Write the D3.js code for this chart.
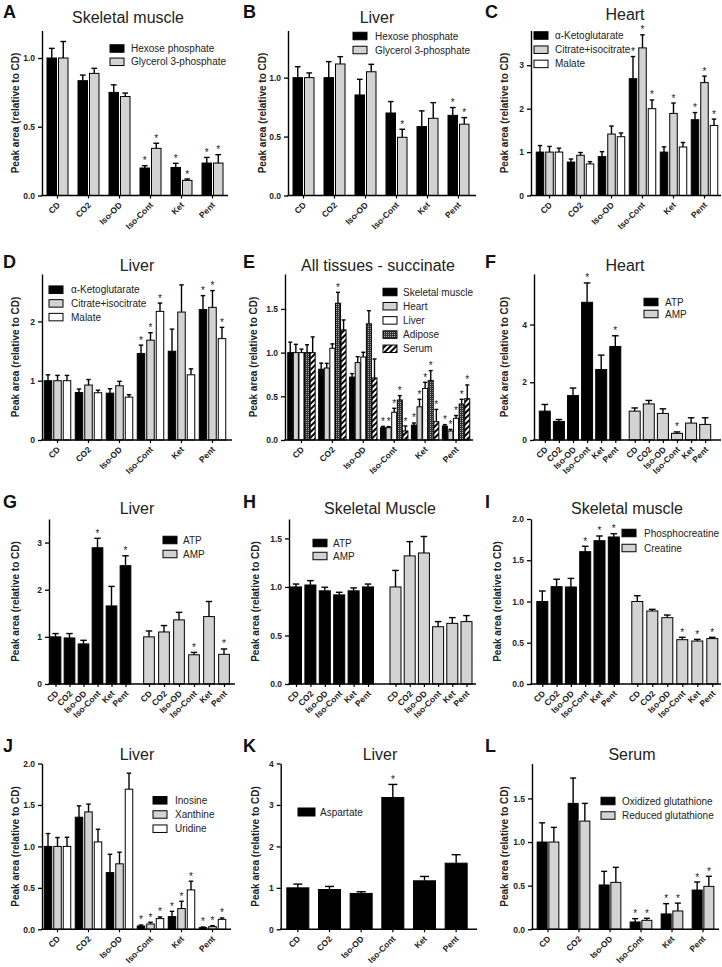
<!DOCTYPE html>
<html><head><meta charset="utf-8">
<script src="https://cdn.jsdelivr.net/npm/d3@7"></script>
<style>
body{margin:0;background:#fff;}
svg{display:block;font-family:"Liberation Sans",Arial,Helvetica,sans-serif;}
</style></head><body>
<svg id="chart" width="722" height="967"></svg>
<script>
const groups = ["CD","CO2","Iso-OD","Iso-Cont","Ket","Pent"];

// A - Skeletal muscle
const aSeries = ["Hexose phosphate","Glycerol 3-phosphate"];
const aMean = [[1.00,0.835,0.75,0.20,0.204,0.236],[1.00,0.888,0.72,0.343,0.11,0.236]];
const aErrTop = [[1.07,0.876,0.805,0.217,0.234,0.277],[1.12,0.925,0.745,0.38,0.12,0.297]];
const aSig = [[0,0,0,1,1,1],[0,0,0,1,1,1]];
const aTicks = [0,0.5,1.0];

// B - Liver
const bSeries = ["Hexose phosphate","Glycerol 3-phosphate"];
const bMean = [[1.0,1.0,0.853,0.70,0.585,0.68],[1.0,1.116,1.05,0.494,0.655,0.605]];
const bErrTop = [[1.093,1.136,0.986,0.797,0.718,0.746],[1.04,1.178,1.113,0.562,0.788,0.661]];
const bSig = [[0,0,0,0,0,1],[0,0,0,1,0,1]];
const bTicks = [0,0.5,1.0];

// C - Heart
const cSeries = ["\u03b1-Ketoglutarate","Citrate+isocitrate","Malate"];
const cMean = [[1.0,0.77,0.895,2.69,1.0,1.745],[1.0,0.926,1.415,3.40,1.89,2.6],[1.0,0.727,1.354,2.0,1.117,1.614]];
const cErrTop = [[1.15,0.84,1.01,3.2,1.12,1.91],[1.13,0.99,1.6,3.70,2.13,2.75],[1.09,0.78,1.44,2.2,1.22,1.76]];
const cSig = [[0,0,0,1,0,1],[0,0,0,1,1,1],[0,0,0,1,0,1]];
const cTicks = [0,1,2,3];

// D - Liver
const dSeries = ["\u03b1-Ketoglutarate","Citrate+isocitrate","Malate"];
const dMean = [[1.0,0.80,0.79,1.46,1.497,2.2],[1.0,0.927,0.915,1.684,2.158,2.237],[1.0,0.797,0.723,2.17,1.10,1.71]];
const dErrTop = [[1.10,0.86,0.865,1.60,1.87,2.435],[1.09,1.02,0.99,1.81,2.616,2.52],[1.09,0.84,0.763,2.31,1.20,1.90]];
const dSig = [[0,0,0,1,0,1],[0,0,0,1,0,1],[0,0,0,1,0,1]];
const dTicks = [0,1,2];

// E - All tissues - succinate
const eSeries = ["Skeletal muscle","Heart","Liver","Adipose","Serum"];
const eMean = [
  [1.0,0.81,0.72,0.14,0.17,0.16],
  [1.0,0.824,0.886,0.141,0.38,0.103],
  [1.0,1.05,0.95,0.317,0.59,0.248],
  [1.0,1.565,1.33,0.458,0.68,0.412],
  [1.0,1.26,0.71,0.103,0.21,0.473]];
const eErrTop = [
  [1.12,0.88,0.76,0.156,0.195,0.176],
  [1.095,0.877,0.954,0.153,0.466,0.122],
  [1.04,1.10,1.004,0.363,0.66,0.28],
  [1.09,1.69,1.48,0.508,0.794,0.466],
  [1.18,1.374,0.927,0.16,0.35,0.63]];
const eSig = [[0,0,0,1,1,1],[0,0,0,1,1,1],[0,0,0,1,1,1],[0,1,0,1,1,1],[0,0,0,1,1,1]];
const eTicks = [0,0.5,1.0,1.5];

// F - Heart ATP/AMP
const fSeries = ["ATP","AMP"];
const fMean = [[1.0,0.644,1.54,4.77,2.44,3.24],[1.0,1.25,0.92,0.23,0.586,0.54]];
const fErrTop = [[1.23,0.71,1.80,5.44,2.94,3.61],[1.11,1.37,1.08,0.28,0.77,0.77]];
const fSig = [[0,0,0,1,0,1],[0,0,0,1,0,0]];
const fTicks = [0,2,4];

// G - Liver ATP/AMP
const gSeries = ["ATP","AMP"];
const gMean = [[1.0,0.977,0.85,2.89,1.656,2.51],[1.0,1.104,1.36,0.62,1.43,0.63]];
const gErrTop = [[1.07,1.07,0.927,3.09,2.07,2.72],[1.125,1.24,1.52,0.67,1.75,0.743]];
const gSig = [[0,0,0,1,0,1],[0,0,0,1,0,1]];
const gTicks = [0,1,2,3];

// H - Skeletal Muscle ATP/AMP
const hSeries = ["ATP","AMP"];
const hMean = [[1.0,1.02,0.96,0.918,0.96,1.0],[1.0,1.32,1.35,0.59,0.625,0.643]];
const hErrTop = [[1.03,1.065,0.997,0.945,0.99,1.03],[1.17,1.467,1.52,0.643,0.684,0.705]];
const hSig = [[0,0,0,0,0,0],[0,0,0,0,0,0]];
const hTicks = [0,0.5,1.0,1.5];

// I - Skeletal muscle PCr/Cr
const iSeries = ["Phosphocreatine","Creatine"];
const iMean = [[1.0,1.18,1.176,1.604,1.737,1.782],[1.0,0.885,0.804,0.537,0.521,0.55]];
const iErrTop = [[1.127,1.27,1.28,1.669,1.794,1.822],[1.07,0.905,0.836,0.566,0.541,0.566]];
const iSig = [[0,0,0,1,1,1],[0,0,0,1,1,1]];
const iTicks = [0,0.5,1.0,1.5,2.0];

// J - Liver nucleosides
const jSeries = ["Inosine","Xanthine","Uridine"];
const jMean = [[1.0,1.352,0.684,0.04,0.153,0.02],[1.0,1.416,0.79,0.064,0.25,0.032],[1.0,1.054,1.69,0.129,0.475,0.12]];
const jErrTop = [[1.155,1.489,0.905,0.052,0.217,0.028],[1.107,1.51,0.93,0.085,0.338,0.044],[1.11,1.207,1.883,0.149,0.58,0.137]];
const jSig = [[0,0,0,1,1,1],[0,0,0,1,1,1],[0,0,0,1,1,1]];
const jTicks = [0,0.5,1.0,1.5,2.0];

// K - Liver aspartate
const kSeries = ["Aspartate"];
const kMean = [[1.0,0.96,0.866,3.18,1.17,1.595]];
const kErrTop = [[1.09,1.034,0.906,3.495,1.275,1.80]];
const kSig = [[0,0,0,1,0,0]];
const kTicks = [0,1,2,3,4];

// L - Serum glutathione
const lSeries = ["Oxidized glutathione","Reduced glutathione"];
const lMean = [[1.0,1.443,0.508,0.084,0.176,0.45],[1.0,1.24,0.538,0.103,0.21,0.492]];
const lErrTop = [[1.22,1.733,0.664,0.122,0.294,0.542],[1.168,1.443,0.71,0.126,0.30,0.607]];
const lSig = [[0,0,0,1,1,1],[0,0,0,1,1,1]];
const lTicks = [0,0.5,1.0,1.5];

// ---------- styles / layout ----------
const BLACK="#000", GRAY="#d3d3d3", WHITE="#fff";
const f1 = d3.format(".1f"), f0 = d3.format("d");
const R1=[30.5,195.5], R2=[274,440], R3=[519,684], R4=[763.5,929.3];

const panels = [
 {letter:"A",lx:3,ly:18,title:"Skeletal muscle",tx:128,ty:23,series:aSeries,mean:aMean,err:aErrTop,sig:aSig,ticks:aTicks,fmt:f1,ymax:1.2,
  top:R1[0],bottom:R1[1],axisX:42,xEnd:228,x0:42,x1:228,bw:9.5,gap:2,fills:[BLACK,GRAY],ylx:15,
  leg:{x:110,y:48.5,dy:13.3,tx:131}},
 {letter:"B",lx:243,ly:18,title:"Liver",tx:377,ty:23,series:bSeries,mean:bMean,err:bErrTop,sig:bSig,ticks:bTicks,fmt:f1,ymax:1.4,
  top:R1[0],bottom:R1[1],axisX:288,xEnd:476,x0:288,x1:474,bw:9.5,gap:2,fills:[BLACK,GRAY],ylx:262,
  leg:{x:353,y:36,dy:14,tx:375}},
 {letter:"C",lx:485,ly:18,title:"Heart",tx:625,ty:20,series:cSeries,mean:cMean,err:cErrTop,sig:cSig,ticks:cTicks,fmt:f0,ymax:3.8,
  top:R1[0],bottom:R1[1],axisX:531,xEnd:721,x0:534,x1:720,bw:7.5,gap:2,fills:[BLACK,GRAY,WHITE],ylx:504,
  leg:{x:534,y:35.5,dy:14.2,tx:555}},
 {letter:"D",lx:3,ly:268,title:"Liver",tx:137,ty:271,series:dSeries,mean:dMean,err:dErrTop,sig:dSig,ticks:dTicks,fmt:f0,ymax:2.8,
  top:R2[0],bottom:R2[1],axisX:42,xEnd:232,x0:42,x1:228,bw:7.5,gap:2,fills:[BLACK,GRAY,WHITE],ylx:15,
  leg:{x:49,y:289.7,dy:13.7,tx:71}},
 {letter:"E",lx:243,ly:268,title:"All tissues - succinate",tx:378,ty:271,series:eSeries,mean:eMean,err:eErrTop,sig:eSig,ticks:eTicks,fmt:f1,ymax:1.9,
  top:R2[0],bottom:R2[1],axisX:285,xEnd:473,x0:286,x1:471.5,bw:5,gap:0.6,fills:[BLACK,GRAY,WHITE,"url(#checker)","url(#stripes)"],ylx:253,
  leg:{x:383,y:292,dy:14.2,tx:403}},
 {letter:"F",lx:485,ly:268,title:"Heart",tx:625,ty:271,series:fSeries,mean:fMean,err:fErrTop,sig:fSig,ticks:fTicks,fmt:f0,ymax:5.75,
  top:R2[0],bottom:R2[1],axisX:534,xEnd:721,split:[{c:544.8,s:14.1},{c:634.7,s:14.1}],bw:11,fills:[BLACK,GRAY],ylx:504,
  leg:{x:644,y:302,dy:12,tx:665}},
 {letter:"G",lx:3,ly:508,title:"Liver",tx:137,ty:514,series:gSeries,mean:gMean,err:gErrTop,sig:gSig,ticks:gTicks,fmt:f0,ymax:3.5,
  top:R3[0],bottom:R3[1],axisX:49,xEnd:235,split:[{c:55.5,s:14},{c:149,s:15}],bw:10.7,fills:[BLACK,GRAY],ylx:15,
  leg:{x:163,y:540,dy:14,tx:183}},
 {letter:"H",lx:243,ly:508,title:"Skeletal Muscle",tx:380,ty:514,series:hSeries,mean:hMean,err:hErrTop,sig:hSig,ticks:hTicks,fmt:f1,ymax:1.7,
  top:R3[0],bottom:R3[1],axisX:289,xEnd:476,split:[{c:296,s:14.4},{c:395.5,s:14.2}],bw:11,fills:[BLACK,GRAY],ylx:255,
  leg:{x:313,y:543,dy:13,tx:333}},
 {letter:"I",lx:485,ly:508,title:"Skeletal muscle",tx:627,ty:514,series:iSeries,mean:iMean,err:iErrTop,sig:iSig,ticks:iTicks,fmt:f1,ymax:2.0,
  top:R3[0],bottom:R3[1],axisX:531,xEnd:721,split:[{c:542.3,s:14.3},{c:637.3,s:15}],bw:11,fills:[BLACK,GRAY],ylx:497,
  leg:{x:622,y:533,dy:15,tx:644}},
 {letter:"J",lx:3,ly:752,title:"Liver",tx:137,ty:760,series:jSeries,mean:jMean,err:jErrTop,sig:jSig,ticks:jTicks,fmt:f1,ymax:2.0,
  top:R4[0],bottom:R4[1],axisX:42,xEnd:231,x0:42,x1:228,bw:7.5,gap:2,fills:[BLACK,GRAY,WHITE],ylx:15,
  leg:{x:153,y:800.3,dy:14.2,tx:175}},
 {letter:"K",lx:243,ly:752,title:"Liver",tx:380,ty:760,series:kSeries,mean:kMean,err:kErrTop,sig:kSig,ticks:kTicks,fmt:f0,ymax:4,
  top:R4[0],bottom:R4[1],axisX:280.7,xEnd:477,x0:282,x1:472,bw:22,gap:0,fills:[BLACK],ylx:255,
  leg:{x:298,y:812,dy:14,tx:320,w:17,h:8}},
 {letter:"L",lx:485,ly:752,title:"Serum",tx:632,ty:760,series:lSeries,mean:lMean,err:lErrTop,sig:lSig,ticks:lTicks,fmt:f1,ymax:1.9,
  top:R4[0],bottom:R4[1],axisX:532,xEnd:719,x0:532.5,x1:718.5,bw:10,gap:1.7,fills:[BLACK,GRAY],ylx:504,
  leg:{x:601,y:801,dy:14.5,tx:622}}
];

const svg = d3.select("#chart");
svg.append("rect").attr("width",722).attr("height",967).attr("fill","#fff");
const defs = svg.append("defs");
const pc = defs.append("pattern").attr("id","checker").attr("width",2).attr("height",2).attr("patternUnits","userSpaceOnUse");
pc.append("rect").attr("width",2).attr("height",2).attr("fill","#333");
pc.append("rect").attr("width",1).attr("height",1).attr("fill","#aaa");
const ps = defs.append("pattern").attr("id","stripes").attr("width",4).attr("height",4).attr("patternUnits","userSpaceOnUse").attr("patternTransform","rotate(45)");
ps.append("rect").attr("width",4).attr("height",4).attr("fill","#fff");
ps.append("rect").attr("width",2).attr("height",4).attr("fill","#000");

function drawPanel(P){
  const g = svg.append("g");
  const y = d3.scaleLinear().domain([0,P.ymax]).range([P.bottom,P.top]);
  const k = P.series.length;
  let xpos, axisScale, fmtX = d=>d;
  if (P.split){
    const keys=[], pos=[];
    P.series.forEach((s,si)=>groups.forEach((gn,gi)=>{keys.push(si+"|"+gn); pos.push(P.split[si].c + gi*P.split[si].s);}));
    const xo = d3.scaleOrdinal().domain(keys).range(pos);
    xpos = (si,gi)=>xo(si+"|"+groups[gi]);
    axisScale = xo; fmtX = d=>d.split("|")[1];
  } else {
    const xb = d3.scaleBand().domain(groups).range([P.x0,P.x1]);
    const W = k*P.bw + (k-1)*P.gap;
    const xs = d3.scaleBand().domain(d3.range(k)).range([-W/2,W/2]).paddingInner(k>1?P.gap/(P.bw+P.gap):0);
    xpos = (si,gi)=>xb(groups[gi]) + xb.bandwidth()/2 + xs(si) + xs.bandwidth()/2;
    axisScale = xb;
  }
  const recs=[];
  P.series.forEach((s,si)=>groups.forEach((gn,gi)=>recs.push({si,gi,m:P.mean[si][gi],e:P.err[si][gi],sig:P.sig[si][gi]})));
  const bw = P.bw, cw = Math.max(4, Math.min(bw*0.6, 9));
  const eb = g.append("g").attr("stroke","#000").attr("stroke-width",1.4);
  eb.selectAll("line.v").data(recs).join("line").attr("class","v")
    .attr("x1",d=>xpos(d.si,d.gi)).attr("x2",d=>xpos(d.si,d.gi))
    .attr("y1",d=>y(d.m)).attr("y2",d=>y(d.e));
  eb.selectAll("line.c").data(recs).join("line").attr("class","c")
    .attr("x1",d=>xpos(d.si,d.gi)-cw/2).attr("x2",d=>xpos(d.si,d.gi)+cw/2)
    .attr("y1",d=>y(d.e)).attr("y2",d=>y(d.e));
  g.append("g").selectAll("rect").data(recs).join("rect")
    .attr("x",d=>xpos(d.si,d.gi)-bw/2).attr("width",bw)
    .attr("y",d=>y(d.m)).attr("height",d=>y(0)-y(d.m))
    .attr("fill",d=>P.fills[d.si]).attr("stroke","#000").attr("stroke-width",1);
  g.append("g").selectAll("text").data(recs.filter(d=>d.sig)).join("text")
    .attr("x",d=>xpos(d.si,d.gi)).attr("y",d=>y(d.e)-1.5)
    .attr("text-anchor","middle").attr("font-size",10).attr("fill","#222").text("*");
  const ya = g.append("g").attr("transform",`translate(${P.axisX},0)`)
    .call(d3.axisLeft(y).tickValues(P.ticks).tickFormat(P.fmt).tickSize(4).tickSizeOuter(0));
  ya.select(".domain").attr("stroke-width",1.4);
  ya.selectAll(".tick line").attr("stroke-width",1.3);
  ya.selectAll(".tick text").attr("font-size",8.5).attr("font-weight","bold").attr("fill","#222").attr("font-family",null);
  const xa = g.append("g").attr("transform",`translate(0,${P.bottom})`)
    .call(d3.axisBottom(axisScale).tickSize(3).tickSizeOuter(0).tickFormat(fmtX));
  xa.select(".domain").remove();
  xa.selectAll(".tick line").attr("stroke-width",1.2);
  xa.selectAll(".tick text").attr("font-size",8.5).attr("font-weight","bold").attr("fill","#222").attr("font-family",null)
    .attr("x",0).attr("y",0).attr("dy","0.35em").attr("transform","translate(1,8) rotate(-45)").attr("text-anchor","end");
  g.append("line").attr("x1",P.axisX-0.7).attr("x2",P.xEnd).attr("y1",y(0)).attr("y2",y(0))
    .attr("stroke","#000").attr("stroke-width",1.4);
  g.append("text").attr("transform",`translate(${P.ylx},${(P.top+P.bottom)/2}) rotate(-90)`)
    .attr("dy","0.35em").attr("text-anchor","middle").attr("font-size",10).attr("font-weight","bold").attr("fill","#222")
    .text("Peak area (relative to CD)");
  g.append("text").attr("x",P.tx).attr("y",P.ty).attr("text-anchor","middle").attr("font-size",16).attr("fill","#222").text(P.title);
  g.append("text").attr("x",P.lx).attr("y",P.ly).attr("font-size",18).attr("font-weight","bold").attr("fill","#111").text(P.letter);
  const L = P.leg, lw = L.w||14, lh = L.h||7.5;
  const lg = g.append("g");
  P.series.forEach((s,si)=>{
    lg.append("rect").attr("x",L.x).attr("y",L.y+si*L.dy-lh/2).attr("width",lw).attr("height",lh)
      .attr("fill",P.fills[si]).attr("stroke","#000").attr("stroke-width",1);
    lg.append("text").attr("x",L.tx).attr("y",L.y+si*L.dy).attr("dy","0.35em").attr("font-size",10).attr("fill","#222").text(s);
  });
}
panels.forEach(drawPanel);
</script>
</body></html>
